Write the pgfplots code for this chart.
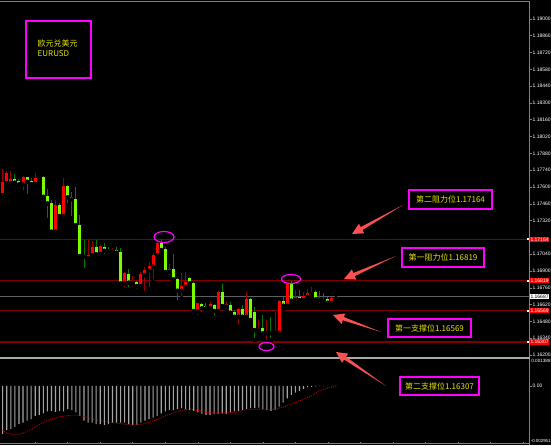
\documentclass[border=0pt]{standalone}
\usepackage{fontspec}
\setmainfont{Liberation Sans}
\newfontfamily\cjk{Noto Sans CJK SC}
\usepackage{pgfplots}
\pgfplotsset{compat=1.18}
\usepackage{pgfplotstable}
\usetikzlibrary{calc}

\definecolor{bullbody}{RGB}{255,0,0}
\definecolor{bullwick}{RGB}{150,0,0}
\definecolor{bearbody}{RGB}{124,252,0}
\definecolor{bearwick}{RGB}{0,125,0}
\definecolor{lvl}{RGB}{128,0,0}
\definecolor{annyel}{RGB}{230,230,0}
\definecolor{arr}{RGB}{250,80,80}
\definecolor{framec}{RGB}{128,128,128}
\definecolor{curline}{RGB}{90,95,100}
\definecolor{sepc}{RGB}{170,170,170}
\definecolor{histc}{RGB}{165,165,165}
\definecolor{sigc}{RGB}{200,0,0}
\definecolor{mag}{RGB}{255,0,255}

% bullish (red) candles: x open high low close
\pgfplotstableread{
x o h l c
0 1.17533 1.17747 1.17530 1.17644
1 1.17631 1.17736 1.17628 1.17714
2 1.17631 1.17736 1.17625 1.17664
5 1.17622 1.17692 1.17553 1.17681
8 1.17625 1.17714 1.17622 1.17672
9 1.17669 1.17686 1.17631 1.17681
13 1.17228 1.17492 1.17225 1.17450
15 1.17358 1.17672 1.17339 1.17611
21 1.17006 1.17158 1.16992 1.17033
22 1.17033 1.17153 1.17019 1.17103
24 1.17042 1.17117 1.17025 1.17108
27 1.17061 1.17089 1.17042 1.17075
30 1.16797 1.16894 1.16747 1.16881
32 1.16797 1.16858 1.16756 1.16811
34 1.16775 1.16894 1.16769 1.16875
35 1.16867 1.16936 1.16714 1.16908
36 1.16903 1.16978 1.16747 1.16942
37 1.16936 1.17047 1.16811 1.17033
38 1.17031 1.17144 1.17006 1.17136
41 1.16894 1.16958 1.16847 1.16914
44 1.16736 1.16881 1.16672 1.16778
45 1.16769 1.16894 1.16728 1.16811
48 1.16561 1.16636 1.16514 1.16631
51 1.16589 1.16644 1.16575 1.16622
53 1.16567 1.16730 1.16561 1.16728
55 1.16603 1.16653 1.16569 1.16622
58 1.16519 1.16589 1.16436 1.16583
60 1.16519 1.16728 1.16506 1.16664
63 1.16408 1.16497 1.16381 1.16422
65 1.16381 1.16492 1.16307 1.16394
67 1.16381 1.16561 1.16353 1.16394
68 1.16386 1.16658 1.16353 1.16653
70 1.16611 1.16795 1.16603 1.16792
72 1.16658 1.16742 1.16631 1.16686
74 1.16658 1.16728 1.16644 1.16692
75 1.16686 1.16747 1.16672 1.16719
76 1.16708 1.16764 1.16686 1.16728
81 1.16636 1.16686 1.16625 1.16672
82 1.16672 1.16692 1.16653 1.16687
}\bull

% bearish (green) candles: x open high low close
\pgfplotstableread{
x o h l c
3 1.17664 1.17708 1.17633 1.17636
4 1.17653 1.17664 1.17619 1.17622
6 1.17681 1.17686 1.17525 1.17644
7 1.17653 1.17672 1.17597 1.17625
10 1.17686 1.17692 1.17514 1.17519
11 1.17525 1.17581 1.17325 1.17464
12 1.17464 1.17492 1.17192 1.17228
14 1.17450 1.17464 1.17325 1.17358
16 1.17611 1.17614 1.17450 1.17514
17 1.17519 1.17561 1.17339 1.17497
18 1.17503 1.17603 1.17264 1.17283
19 1.17283 1.17367 1.17022 1.17025
20 1.17033 1.17158 1.16908 1.17019
23 1.17103 1.17158 1.17033 1.17039
25 1.17103 1.17131 1.17025 1.17069
26 1.17075 1.17097 1.17025 1.17064
28 1.17075 1.17097 1.17033 1.17053
29 1.17061 1.17089 1.16769 1.16797
31 1.16875 1.16914 1.16747 1.16803
33 1.16811 1.16819 1.16736 1.16775
39 1.17131 1.17164 1.17053 1.17075
40 1.17081 1.17103 1.16881 1.16892
42 1.16914 1.17042 1.16825 1.16831
43 1.16831 1.16839 1.16636 1.16736
46 1.16839 1.16847 1.16783 1.16797
47 1.16803 1.16811 1.16561 1.16567
49 1.16625 1.16636 1.16542 1.16589
50 1.16608 1.16636 1.16569 1.16589
52 1.16617 1.16625 1.16514 1.16567
54 1.16728 1.16792 1.16603 1.16608
56 1.16617 1.16644 1.16547 1.16553
57 1.16561 1.16575 1.16514 1.16519
59 1.16581 1.16617 1.16506 1.16519
61 1.16664 1.16672 1.16478 1.16492
62 1.16561 1.16603 1.16325 1.16408
64 1.16422 1.16533 1.16367 1.16381
66 1.16394 1.16519 1.16325 1.16381
69 1.16653 1.16686 1.16575 1.16611
71 1.16792 1.16819 1.16644 1.16653
73 1.16686 1.16742 1.16653 1.16658
77 1.16728 1.16742 1.16631 1.16664
78 1.16672 1.16736 1.16617 1.16658
79 1.16664 1.16714 1.16625 1.16653
80 1.16664 1.16686 1.16617 1.16636
}\bear

% MACD histogram
\pgfplotstableread{
x v
0 -0.00245
1 -0.00225
2 -0.00220
3 -0.00208
4 -0.00194
5 -0.00186
6 -0.00177
7 -0.00169
8 -0.00152
9 -0.00147
10 -0.00140
11 -0.00130
12 -0.00127
13 -0.00132
14 -0.00127
15 -0.00130
16 -0.00118
17 -0.00123
18 -0.00135
19 -0.00152
20 -0.00177
21 -0.00186
22 -0.00186
23 -0.00194
24 -0.00194
25 -0.00198
26 -0.00194
27 -0.00186
28 -0.00186
29 -0.00186
30 -0.00186
31 -0.00194
32 -0.00198
33 -0.00198
34 -0.00186
35 -0.00177
36 -0.00169
37 -0.00161
38 -0.00152
39 -0.00140
40 -0.00130
41 -0.00123
42 -0.00123
43 -0.00118
44 -0.00113
45 -0.00118
46 -0.00123
47 -0.00127
48 -0.00135
49 -0.00144
50 -0.00147
51 -0.00147
52 -0.00144
53 -0.00144
54 -0.00140
55 -0.00144
56 -0.00135
57 -0.00130
58 -0.00127
59 -0.00123
60 -0.00118
61 -0.00113
62 -0.00113
63 -0.00110
64 -0.00118
65 -0.00123
66 -0.00127
67 -0.00123
68 -0.00106
69 -0.00085
70 -0.00063
71 -0.00046
72 -0.00034
73 -0.00025
74 -0.00017
75 -0.00008
76 -0.00005
77 -0.00003
78 -0.00002
79 -0.00002
80 -0.00002
81 -0.00002
82 -0.00002
}\macd

% MACD signal line
\pgfplotstableread{
x s
0 -0.00225
1 -0.00240
3 -0.00248
5 -0.00240
8 -0.00208
10 -0.00185
12 -0.00168
14 -0.00157
16 -0.00151
18 -0.00149
20 -0.00155
22 -0.00168
24 -0.00177
26 -0.00184
28 -0.00189
30 -0.00194
32 -0.00198
34 -0.00195
36 -0.00186
38 -0.00170
40 -0.00152
42 -0.00138
44 -0.00125
46 -0.00118
48 -0.00125
50 -0.00135
54 -0.00137
57 -0.00135
60 -0.00122
63 -0.00118
67 -0.00118
70 -0.00100
73 -0.00076
76 -0.00050
78 -0.00025
80 -0.00012
82 0.00000
}\signal

\newcommand{\fatarrow}[2]{%
  \coordinate (aT) at #1; \coordinate (aH) at #2;
  \coordinate (aB) at ($(aH)!11pt!(aT)$);
  \fill[arr] (aT) -- ($(aB)!1.7pt!90:(aH)$) -- ($(aB)!5.5pt!90:(aH)$) -- (aH)
    -- ($(aB)!5.5pt!-90:(aH)$) -- ($(aB)!1.7pt!-90:(aH)$) -- cycle;}

\begin{document}
\begin{tikzpicture}[x=1pt,y=1pt]
\path[use as bounding box] (0,0) rectangle (551,445);
\clip (0,0) rectangle (551,445);
\fill[black] (0,0) rectangle (551,445);

\begin{axis}[at={(0pt,88pt)}, anchor=south west, scale only axis,
  width=529pt, height=355pt,
  xmin=-0.664, xmax=129.47, ymin=1.1618333, ymax=1.1914167,
  axis line style={draw=none}, xtick=\empty,
  ytick={1.16200,1.16340,1.16480,1.16620,1.16760,1.16900,1.17040,1.17320,1.17460,1.17600,1.17740,1.17880,1.18020,1.18160,1.18300,1.18440,1.18580,1.18720,1.18860,1.19000},
  ytick pos=right, yticklabel pos=right, tick align=outside, major tick length=3pt,
  scaled y ticks=false,
  tick style={draw=framec, line width=0.6pt},
  yticklabel style={/pgf/number format/fixed, /pgf/number format/fixed zerofill,
    /pgf/number format/precision=5, /pgf/number format/assume math mode=true,
    font=\fontsize{5}{5}\selectfont, text=white, anchor=west, inner sep=0pt, xshift=0.5pt},
]
\addplot[lvl, line width=1pt] coordinates {(-0.664,1.17164) (129.47,1.17164)};
\addplot[lvl, line width=1pt] coordinates {(-0.664,1.16819) (129.47,1.16819)};
\addplot[lvl, line width=1pt] coordinates {(-0.664,1.16569) (129.47,1.16569)};
\addplot[lvl, line width=1.6pt] coordinates {(-0.664,1.16307) (129.47,1.16307)};
\addplot[curline, line width=1.2pt] coordinates {(-0.664,1.16687) (129.47,1.16687)};
% wicks
\addplot[only marks, mark=none, error bars/.cd, y dir=plus, y explicit, error mark=none,
  error bar style={line width=1pt, bullwick}]
  table[x=x, y=l, y error plus expr={\thisrow{h}-\thisrow{l}}] {\bull};
\addplot[only marks, mark=none, error bars/.cd, y dir=plus, y explicit, error mark=none,
  error bar style={line width=1pt, bearwick}]
  table[x=x, y=l, y error plus expr={\thisrow{h}-\thisrow{l}}] {\bear};
% bodies
\addplot[only marks, mark=none, error bars/.cd, y dir=plus, y explicit, error mark=none,
  error bar style={line width=3pt, bullbody}]
  table[x=x, y=o, y error plus expr={\thisrow{c}-\thisrow{o}}] {\bull};
\addplot[only marks, mark=none, error bars/.cd, y dir=plus, y explicit, error mark=none,
  error bar style={line width=3pt, bearbody}]
  table[x=x, y=c, y error plus expr={\thisrow{o}-\thisrow{c}}] {\bear};
\coordinate (Ra) at (axis cs:129.47,1.17164);
\coordinate (Rb) at (axis cs:129.47,1.16819);
\coordinate (Sa) at (axis cs:129.47,1.16569);
\coordinate (Sb) at (axis cs:129.47,1.16307);
\coordinate (Cu) at (axis cs:129.47,1.16687);
\end{axis}

\begin{axis}[at={(0pt,1pt)}, anchor=south west, scale only axis,
  width=529pt, height=85.5pt,
  xmin=-0.664, xmax=129.47, ymin=-0.002951, ymax=0.001388,
  axis line style={draw=none}, xtick=\empty,
  scaled y ticks=false,
  ytick={0}, yticklabels={0.00},
  ytick pos=right, yticklabel pos=right, tick align=outside, major tick length=3pt,
  tick style={draw=framec, line width=0.6pt},
  yticklabel style={font=\fontsize{5}{5}\selectfont, text=white, anchor=west, inner sep=0pt, xshift=0.5pt},
]
\addplot[ybar, bar width=1.1pt, fill=histc, draw=none] table[x=x, y=v] {\macd};
\addplot[sigc, line width=0.9pt, dash pattern=on 0.9pt off 1.1pt, smooth] table[x=x, y=s] {\signal};
\end{axis}

% frame lines
\draw[framec, line width=1.2pt] (0,443.6) -- (529.5,443.6);
\draw[framec, line width=0.8pt] (529.5,0) -- (529.5,444.2);
\draw[sepc, line width=2pt] (0,87.5) -- (529.5,87.5);
\draw[framec, line width=0.8pt] (0,1.5) -- (529.5,1.5);
\foreach \i in {8,16,...,128} {\draw[framec, line width=0.6pt] ({2.7+4.065*\i},1.5) -- ++(0,2);}

% MACD edge labels
\node[anchor=north west, inner sep=0pt, text=white, font=\fontsize{4.6}{5}\selectfont] at (531.2,85.8) {0.001388};
\node[anchor=south west, inner sep=0pt, text=white, font=\fontsize{4.4}{5}\selectfont] at (530.6,2.4) {-0.002951};

% level price labels
\foreach \c/\t in {Ra/1.17164, Rb/1.16819, Sa/1.16569, Sb/1.16307} {
  \node[fill=bullbody, text=white, anchor=west, inner sep=0.7pt, minimum height=5.5pt,
        font=\fontsize{5}{5}\selectfont] at ([xshift=0.6pt]\c) {\t};
  \fill[white] ([xshift=-2.2pt,yshift=-1.1pt]\c) rectangle ([xshift=0pt,yshift=1.1pt]\c);
}
\node[fill=white, text=black, anchor=west, inner sep=0.7pt, minimum height=5.5pt,
      font=\fontsize{5}{5}\selectfont] at ([xshift=0.6pt]Cu) {1.16687};

% title box
\draw[mag, line width=1.5pt] (26,424) rectangle (91,367);
\node[anchor=west, inner sep=0pt, text=annyel, font=\cjk\fontsize{8}{8}\selectfont] at (37.5,402) {欧元兑美元};
\node[anchor=west, inner sep=0pt, text=annyel, font=\cjk\fontsize{8}{8}\selectfont] at (37.5,391) {EURUSD};

% ellipses
\draw[mag, line width=1.2pt] (164,208) ellipse [x radius=10, y radius=5.5];
\draw[mag, line width=1.2pt] (291,166) ellipse [x radius=9.5, y radius=4.5];
\draw[mag, line width=1.2pt] (266.5,98.5) ellipse [x radius=7.5, y radius=4];

% annotation boxes
\draw[mag, line width=1.5pt] (409,255) rectangle (492,236);
\node[text=annyel, inner sep=0pt, font=\cjk\fontsize{8}{8}\selectfont] at (450.5,245.5) {第二阻力位1.17164};
\draw[mag, line width=1.5pt] (402,197) rectangle (484,178);
\node[text=annyel, inner sep=0pt, font=\cjk\fontsize{8}{8}\selectfont] at (443,187.5) {第一阻力位1.16819};
\draw[mag, line width=1.5pt] (388,126) rectangle (471,108);
\node[text=annyel, inner sep=0pt, font=\cjk\fontsize{8}{8}\selectfont] at (429.5,117) {第一支撑位1.16569};
\draw[mag, line width=1.5pt] (400,68) rectangle (479,50);
\node[text=annyel, inner sep=0pt, font=\cjk\fontsize{8}{8}\selectfont] at (439.5,59) {第二支撑位1.16307};

% arrows
\fatarrow{(403,240)}{(352,211)}
\fatarrow{(396,189)}{(344,166)}
\fatarrow{(381,113)}{(333,130)}
\fatarrow{(386,59)}{(336,93)}
\end{tikzpicture}
\end{document}
